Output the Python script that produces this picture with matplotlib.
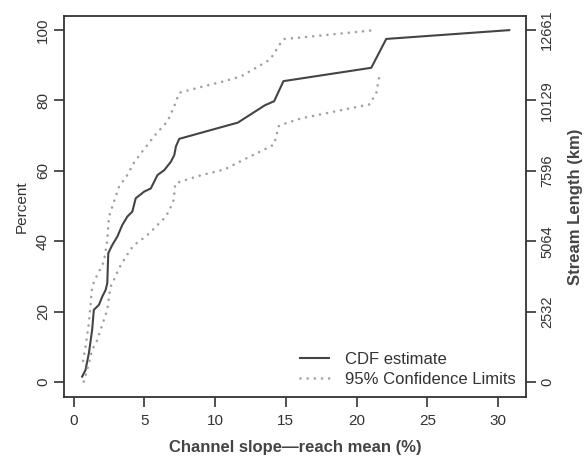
import matplotlib
matplotlib.use("Agg")
from matplotlib import pyplot as plt

plt.rcParams['font.family'] = ['Liberation Sans', 'DejaVu Sans']

# CDF estimate (slope %, percent)
cdf_x = [0.59, 0.83, 1.07, 1.30, 1.42, 1.78, 2.01, 2.25, 2.37, 2.44, 2.72, 3.08,
         3.43, 3.79, 4.14, 4.38, 4.98, 5.45, 5.92, 6.40, 6.87, 7.11, 7.23, 7.46,
         11.14, 11.6, 13.5, 14.17, 14.83, 21.04, 22.1, 30.8]
cdf_y = [1.5, 3.4, 8.2, 14.8, 20.5, 21.9, 24.2, 26.1, 28.1, 36.6, 38.9, 41.3,
         44.6, 47.0, 48.4, 52.2, 54.1, 55.0, 58.8, 60.2, 62.6, 64.5, 67.0, 69.1,
         73.2, 73.7, 78.6, 79.8, 85.5, 89.3, 97.5, 100.0]

# upper 95% confidence limit
up_x = [0.66, 0.83, 1.07, 1.30, 1.54, 2.13, 2.37, 2.49, 2.84, 3.20, 3.79, 4.26,
        4.86, 5.80, 6.63, 7.11, 7.46, 8.77, 10.66, 11.85, 13.27, 13.9, 14.64,
        14.9, 16.06, 21.3]
up_y = [6.0, 10.0, 16.7, 27.1, 29.4, 34.2, 40.3, 47.0, 51.2, 55.5, 58.8, 62.3,
        65.6, 70.4, 74.1, 78.4, 82.2, 83.6, 85.5, 86.9, 90.2, 91.7, 96.4,
        97.5, 97.9, 100.0]

# lower 95% confidence limit
lo_x = [0.71, 1.07, 1.30, 1.66, 2.01, 2.37, 2.49, 2.61, 2.84, 3.20, 3.55, 3.91,
        4.26, 4.74, 5.33, 5.92, 6.52, 6.87, 7.06, 7.18, 7.53, 8.77, 10.66,
        12.08, 13.5, 14.17, 14.5, 14.76, 16.06, 20.92, 21.4, 21.63]
lo_y = [0.1, 5.3, 9.1, 11.9, 16.2, 20.5, 24.2, 27.1, 29.0, 32.3, 34.7, 37.0,
        38.9, 40.3, 42.2, 44.6, 47.0, 49.8, 51.7, 56.4, 56.9, 58.5, 60.4,
        63.3, 66.1, 67.5, 72.7, 73.2, 74.9, 78.9, 82.2, 87.4]

pct_ticks = [0, 20, 40, 60, 80, 100]
km_labels = ['0', '2532', '5064', '7596', '10129', '12661']
x_ticks = [0, 5, 10, 15, 20, 25, 30]

fig = plt.figure(figsize=(5.86, 4.59), dpi=100)
ax = fig.add_axes([0.109, 0.135, 0.789, 0.83])

dot_style = dict(color='#a0a0a0', lw=1.9, ls=(0, (0.01, 2.7)),
                 dash_capstyle='round')
ax.plot(cdf_x, cdf_y, color='#444444', lw=1.5, label='CDF estimate')
ax.plot(up_x, up_y, label='95% Confidence Limits', **dot_style)
ax.plot(lo_x, lo_y, **dot_style)

ax.set_xlim(-0.7, 32.0)
ax.set_ylim(-4.3, 104.0)
ax.set_xticks(x_ticks)
ax.set_yticks(pct_ticks)
ax.set_yticklabels([str(t) for t in pct_ticks], rotation=90, va='center')

for sp in ax.spines.values():
    sp.set_color('#333333')
    sp.set_linewidth(1.3)
ax.tick_params(direction='out', length=7, width=1.2, color='#333333',
               labelsize=11, labelcolor='#333333')
ax.tick_params(axis='x', pad=5)
ax.tick_params(axis='y', pad=3)

ax.set_ylabel('Percent', fontsize=11, color='#333333', labelpad=5)
ax.set_xlabel('Channel slope\u2014reach mean (%)', fontsize=12,
              fontweight='bold', color='#444444', labelpad=9)

ax2 = ax.twinx()
ax2.set_ylim(ax.get_ylim())
ax2.set_yticks(pct_ticks)
ax2.set_yticklabels(km_labels, rotation=90, va='center')
ax2.tick_params(direction='out', length=7, width=1.2, color='#333333',
                labelsize=10.5, labelcolor='#333333', pad=3)
for sp in ax2.spines.values():
    sp.set_visible(False)
ax2.set_ylabel('Stream Length (km)', fontsize=12, fontweight='bold',
               color='#444444', labelpad=10)

leg = ax.legend(loc='lower right', frameon=False, fontsize=12,
                handlelength=1.7, handletextpad=1.0, labelspacing=0.3,
                borderaxespad=0.2)
for t in leg.get_texts():
    t.set_color('#333333')

fig.savefig('out.png', dpi=100)
